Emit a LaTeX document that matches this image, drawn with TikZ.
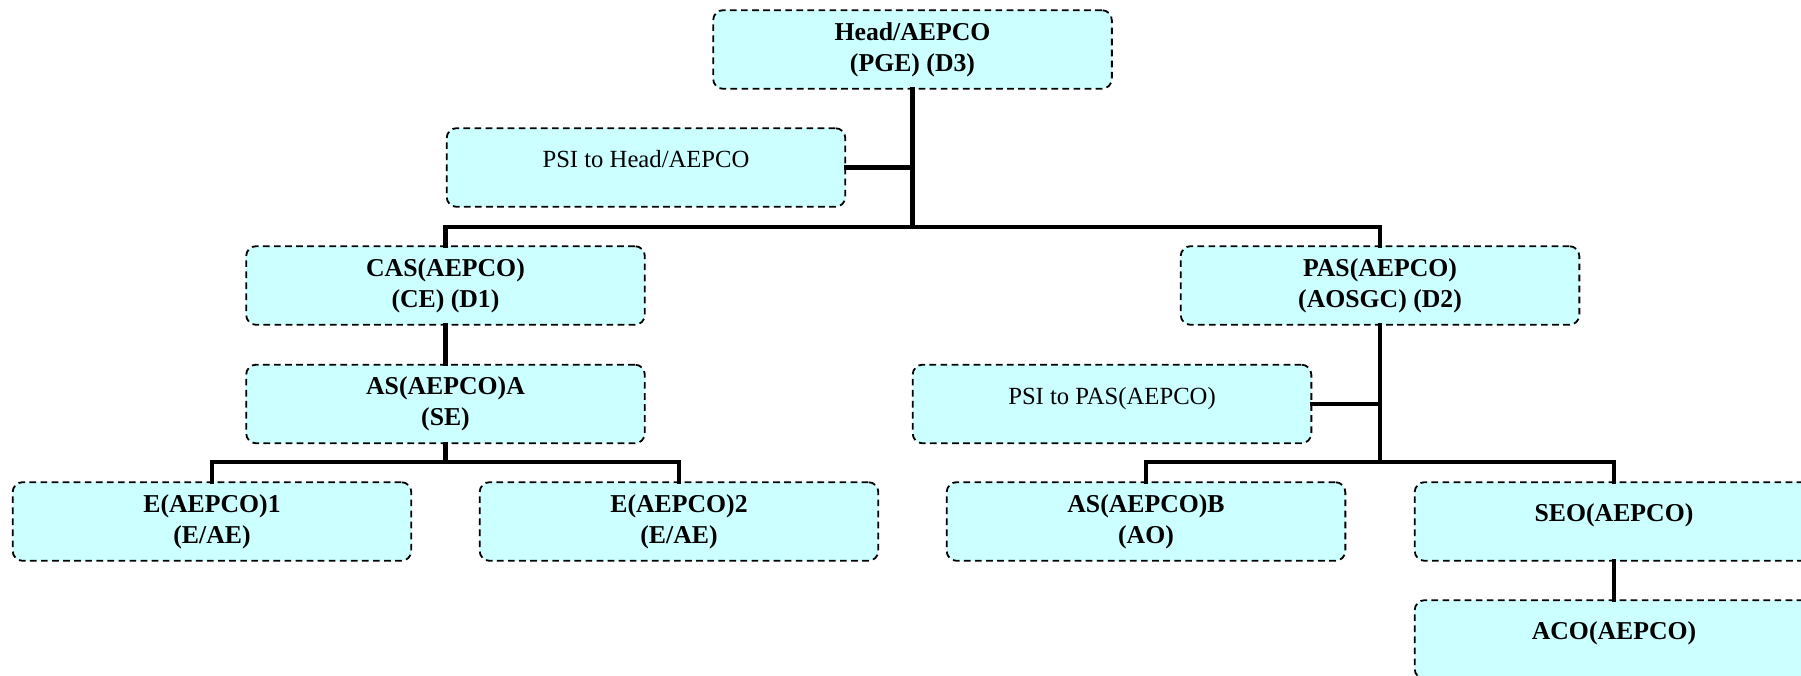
\documentclass[tikz,border=0pt]{standalone}
\usepackage{fontspec}
\setmainfont{Liberation Serif}
\definecolor{boxfill}{HTML}{CCFFFF}
\begin{document}
\begin{tikzpicture}[x=0.75pt,y=-0.75pt,
  box/.style={draw=black, fill=boxfill, line width=1.35pt,
    dash pattern=on 5pt off 3.3pt, rounded corners=7.5pt,
    minimum width=299pt, minimum height=59pt, inner sep=0pt,
    align=center, font=\fontsize{19.3pt}{23.5pt}\selectfont\bfseries},
  plain/.style={font=\fontsize{18.5pt}{23.25pt}\selectfont},
  oneline/.style={text height=0.8em, text depth=0.8em},
  conn/.style={line width=3.5pt, line cap=rect}]
\useasboundingbox (0,0) rectangle (1801,675);
\clip (0,0) rectangle (1801,675);
% nodes
\node[box] (head) at (912.5,49.5) {Head/AEPCO\\(PGE) (D3)};
\node[box,plain,oneline] (psi1) at (646,167.5) {PSI to Head/AEPCO};
\node[box] (cas) at (445.5,285.5) {CAS(AEPCO)\\(CE) (D1)};
\node[box] (asa) at (445.5,404) {AS(AEPCO)A\\(SE)};
\node[box] (e1) at (212,521.5) {E(AEPCO)1\\(E/AE)};
\node[box] (e2) at (679,521.5) {E(AEPCO)2\\(E/AE)};
\node[box] (pas) at (1380,285.5) {PAS(AEPCO)\\(AOSGC) (D2)};
\node[box,plain,oneline] (psi2) at (1112,404) {PSI to PAS(AEPCO)};
\node[box] (asb) at (1146,521.5) {AS(AEPCO)B\\(AO)};
\node[box,oneline] (seo) at (1614,521.5) {SEO(AEPCO)};
\node[box,oneline] (aco) at (1614,639.5) {ACO(AEPCO)};
% junctions
\coordinate (j0) at (912.5,227);
\coordinate (j1) at (445.5,462);
\coordinate (j2) at (1380,462);
% connectors
\draw[conn] (head.south) -- (j0);
\draw[conn] (psi1.east) -- (psi1.east -| head.south);
\draw[conn] (cas.north) |- (j0) -| (pas.north);
\draw[conn] (cas.south) -- (asa.north);
\draw[conn] (asa.south) -- (j1);
\draw[conn] (e1.north) |- (j1) -| (e2.north);
\draw[conn] (pas.south) -- (j2);
\draw[conn] (psi2.east) -- (psi2.east -| pas.south);
\draw[conn] (asb.north) |- (j2) -| (seo.north);
\draw[conn] (seo.south) -- (aco.north);
\end{tikzpicture}
\end{document}
